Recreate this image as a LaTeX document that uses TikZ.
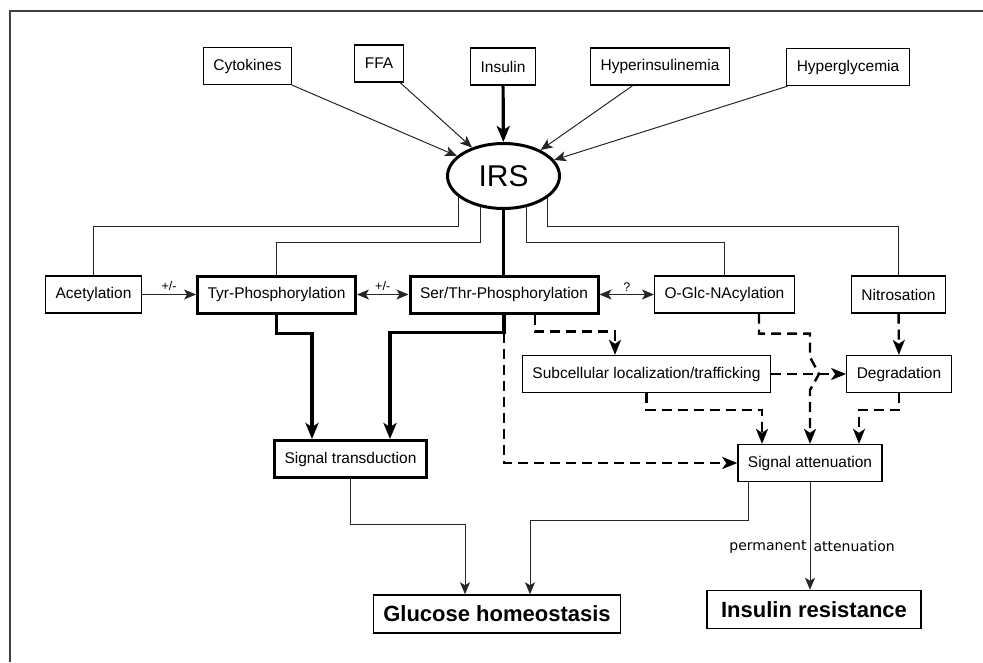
\documentclass[tikz,border=0pt]{standalone}
\usepackage{fontspec}
\setmainfont{Liberation Sans}
\newfontfamily\notefont{DejaVu Sans}
\usetikzlibrary{arrows.meta, shapes.geometric}

\begin{document}
\begin{tikzpicture}[x=1pt, y=-1pt,
    box/.style={draw, line width=1.3pt, inner xsep=10pt, inner ysep=0pt, minimum height=37pt, font=\fontsize{15.5}{18}\selectfont},
    thickbox/.style={box, line width=3pt},
    goal/.style={draw, line width=1.5pt, inner xsep=10pt, inner ysep=0pt, minimum height=38pt, font=\fontsize{22}{26}\selectfont\bfseries},
    link/.style={line width=1pt, draw=black!85},
    arr/.style={link, -{Stealth[length=12pt, width=10pt, inset=3pt]}},
    biarr/.style={link, {Stealth[length=12pt, width=10pt, inset=3pt]}-{Stealth[length=12pt, width=10pt, inset=3pt]}},
    strong/.style={line width=3.2pt, -{Stealth[length=16pt, width=13pt, inset=4pt]}},
    weak/.style={line width=2.4pt, dash pattern=on 10pt off 6pt, -{Stealth[length=15pt, width=12pt, inset=4pt]}},
    lbl/.style={font=\fontsize{12.5}{14}\selectfont, inner sep=3pt},
    notelbl/.style={font=\notefont\fontsize{14}{16}\selectfont, inner xsep=3pt}]
    \useasboundingbox (0,0) rectangle (983,662);
    \draw[line width=2pt, black!75] (983,11) -- (10,11) -- (10,662);

    \node[box] (cyto) at (247.5,66) {Cytokines};
    \node[box] (ffa) at (379,63.5) {FFA};
    \node[box] (ins) at (503,66.5) {Insulin};
    \node[box] (hins) at (660,66.5) {Hyperinsulinemia};
    \node[box] (hgly) at (848,67) {Hyperglycemia};
    \node[draw, ellipse, line width=3pt, minimum width=112pt, minimum height=65pt, inner sep=0pt, font=\fontsize{30}{34}\selectfont] (irs) at (503.5,176) {IRS};

    \node[box] (acet) at (93.5,294.5) {Acetylation};
    \node[thickbox] (tyr) at (276.5,294.5) {Tyr-Phosphorylation};
    \node[thickbox] (ser) at (504,294.5) {Ser/Thr-Phosphorylation};
    \node[box] (oglc) at (724.5,294.5) {O-Glc-NAcylation};
    \node[box] (nitro) at (898.5,294.5) {Nitrosation};
    \node[box] (subc) at (646.5,374) {Subcellular localization/trafficking};
    \node[box] (degr) at (899,374) {Degradation};
    \node[thickbox] (sigt) at (350.5,459) {Signal transduction};
    \node[box] (siga) at (810,463) {Signal attenuation};
    \node[goal] (gluc) at (497,614) {Glucose homeostasis};
    \node[goal, inner xsep=14pt] (insr) at (814,609.5) {Insulin resistance};
    \coordinate (jump) at (siga.north |- subc.east);

    \draw[arr] (cyto) -- (irs);
    \draw[arr] (ffa) -- (irs);
    \draw[strong] (ins) -- (irs);
    \draw[arr] (hins) -- (irs);
    \draw[arr] (hgly) -- (irs);

    \draw[link] (irs.205) -- (irs.205 |- 0,226) -| (acet.north);
    \draw[link] (irs.234) -- (irs.234 |- 0,242) -| (tyr.north);
    \draw[link] (irs.307) -- (irs.307 |- 0,242) -| (oglc.north);
    \draw[link] (irs.334) -- (irs.334 |- 0,226) -| (nitro.north);
    \draw[line width=3.2pt] (irs.south) -- (irs.south |- ser.north);

    \draw[arr] (acet) -- node[lbl, above] {+/-} (tyr);
    \draw[biarr] (tyr) -- node[lbl, above] {+/-} (ser);
    \draw[biarr] (ser) -- node[lbl, above] {?} (oglc);

    \draw[strong] (tyr.south) -- ++(0,19) -| ([xshift=-38.5pt]sigt.north);
    \draw[strong] (ser.south) -- ++(0,18) coordinate (serknee) -| ([xshift=39.5pt]sigt.north);

    \draw[weak] ([xshift=31pt]ser.south) -- ++(0,17) -| ([xshift=-31.5pt]subc.north);
    \draw[weak] (serknee) |- (siga.west);
    \draw[weak] ([xshift=34.5pt]oglc.south) -- ++(0,20) -| ([yshift=17pt]jump) -- ([xshift=9pt]jump) -- ([yshift=-16pt]jump) -- (siga.north);
    \draw[weak] (subc) -- (degr);
    \draw[weak] (nitro) -- (degr);
    \draw[weak] (subc.south) -- ++(0,17) -| ([xshift=-48pt]siga.north);
    \draw[weak] (degr.south) -- ++(0,17) -| ([xshift=49pt]siga.north);

    \draw[arr] (sigt.south) -- ++(0,45) -| ([xshift=-32pt]gluc.north);
    \draw[arr] ([xshift=-62pt]siga.south) -- ++(0,38) -| ([xshift=33pt]gluc.north);
    \draw[arr] (siga.south) -- (siga.south |- insr.north)
        node[pos=0.6, left, notelbl] {permanent}
        node[pos=0.6, right, notelbl] {attenuation};
\end{tikzpicture}
\end{document}
